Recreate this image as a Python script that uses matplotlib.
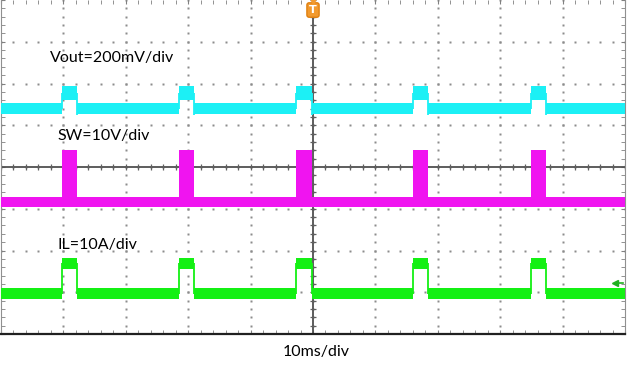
import numpy as np
import matplotlib.pyplot as plt

# pulse timing (ms, 10 ms/div, 0..100 ms across)
pulse_start = [9.75, 28.45, 47.3, 66.1, 84.9]
pulse_end = [12.25, 30.9, 49.8, 68.5, 87.3]

# levels in divisions (0 = bottom of screen, 8 = top)
vout_low, vout_high, vout_dip = 5.40, 5.77, 5.25
sw_low, sw_high = 3.16, 4.41
il_low, il_high = 0.97, 1.69

labels = ['Vout=200mV/div', 'SW=10V/div', 'IL=10A/div']
label_x = [7.85, 9.0, 9.0]
label_y = [6.61, 4.74, 2.13]
time_label = '10ms/div'
il_ground = 1.22

cyan = '#1cf0f5'
magenta = '#f014f0'
green = '#14f014'


def step_arrays(low, high):
    t = [0.0]
    v = [low]
    for s, e in zip(pulse_start, pulse_end):
        t += [s, e]
        v += [high, low]
    t.append(100.0)
    v.append(low)
    return np.array(t), np.array(v)


fig = plt.figure(figsize=(6.27, 3.65), dpi=100)
ax = fig.add_axes([1 / 627, 31 / 365, 624 / 627, 334 / 365])
ax.set_xlim(0, 100)
ax.set_ylim(0, 8)

# graticule dots
minor_x = np.arange(0, 100.01, 2)
minor_y = np.arange(0, 8.01, 0.2)
for gx in np.arange(10, 100, 10):
    ax.plot(np.full_like(minor_y, gx), minor_y, ls='none', marker='s', ms=1.6,
            mfc='#8c8c8c', mec='none', zorder=1)
for gy in np.arange(1, 8, 1):
    ax.plot(minor_x, np.full_like(minor_x, gy), ls='none', marker='s', ms=1.6,
            mfc='#8c8c8c', mec='none', zorder=1)

# centre axes with ticks
ax.axvline(50, color='#505050', lw=1.3, zorder=2)
ax.axhline(4, color='#505050', lw=1.3, zorder=2)
ax.plot(np.full_like(minor_y, 50), minor_y, ls='none', marker='_', ms=5,
        mew=0.9, color='#606060', zorder=2)
ax.plot(minor_x, np.full_like(minor_x, 4), ls='none', marker='|', ms=5,
        mew=0.9, color='#606060', zorder=2)

ax.set_xticks(np.arange(0, 101, 10))
ax.set_yticks(np.arange(0, 9, 1))
ax.set_xticks(minor_x, minor=True)
ax.set_yticks(minor_y, minor=True)
ax.tick_params(which='both', direction='in', length=3, color='#808080',
               labelleft=False, labelbottom=False, top=True, right=True)
for side in ['left', 'right', 'top']:
    ax.spines[side].set_color('#909090')
    ax.spines[side].set_linewidth(0.8)
ax.spines['top'].set_visible(False)
ax.spines['bottom'].set_color('#202020')
ax.spines['bottom'].set_linewidth(1.6)

# Vout
t, v = step_arrays(vout_low, vout_high)
hw = np.where(v > vout_low, 0.16, 0.13)
ax.fill_between(t, v - hw, v + hw, step='post', color=cyan, lw=0, zorder=3)
ax.vlines(pulse_start, vout_low, vout_high, color=cyan, lw=1.3, zorder=3)
ax.vlines(pulse_end, vout_dip, vout_high, color=cyan, lw=1.3, zorder=3)

# SW
t, v = step_arrays(sw_low, sw_high)
ax.fill_between(t, sw_low - 0.12, np.where(v > sw_low, sw_high, sw_low + 0.12),
                step='post', color=magenta, lw=0, zorder=3)

# IL
t, v = step_arrays(il_low, il_high)
ax.fill_between(t, v - 0.13, v + 0.13, step='post', color=green, lw=0, zorder=3)
ax.vlines(pulse_start, il_low, il_high, color=green, lw=1.3, zorder=3)
ax.vlines(pulse_end, il_low, il_high, color=green, lw=1.3, zorder=3)

for txt, x, y in zip(labels, label_x, label_y):
    ax.text(x, y, txt, fontsize=11.5, family='Lato', va='center', ha='left', zorder=5)

# trigger marker and ground marker
ax.text(50, 7.76, 'T', fontsize=8, fontweight='bold', color='white', ha='center',
        va='center', zorder=6,
        bbox=dict(boxstyle='round,pad=0.2', fc='#f29a2e', ec='#e08010'))
ax.plot([50], [7.97], marker='v', ms=5, color='#f29a2e', clip_on=False, zorder=6)
ax.plot([98.9, 99.6], [il_ground, il_ground], color='#20b020', lw=1.2, zorder=6)
ax.plot([98.4], [il_ground], marker='<', ms=5, color='#20b020', zorder=6)

fig.text(0.504, 0.036, time_label, fontsize=11.5, family='Lato', ha='center', va='center')

fig.savefig('out.png', dpi=100)
